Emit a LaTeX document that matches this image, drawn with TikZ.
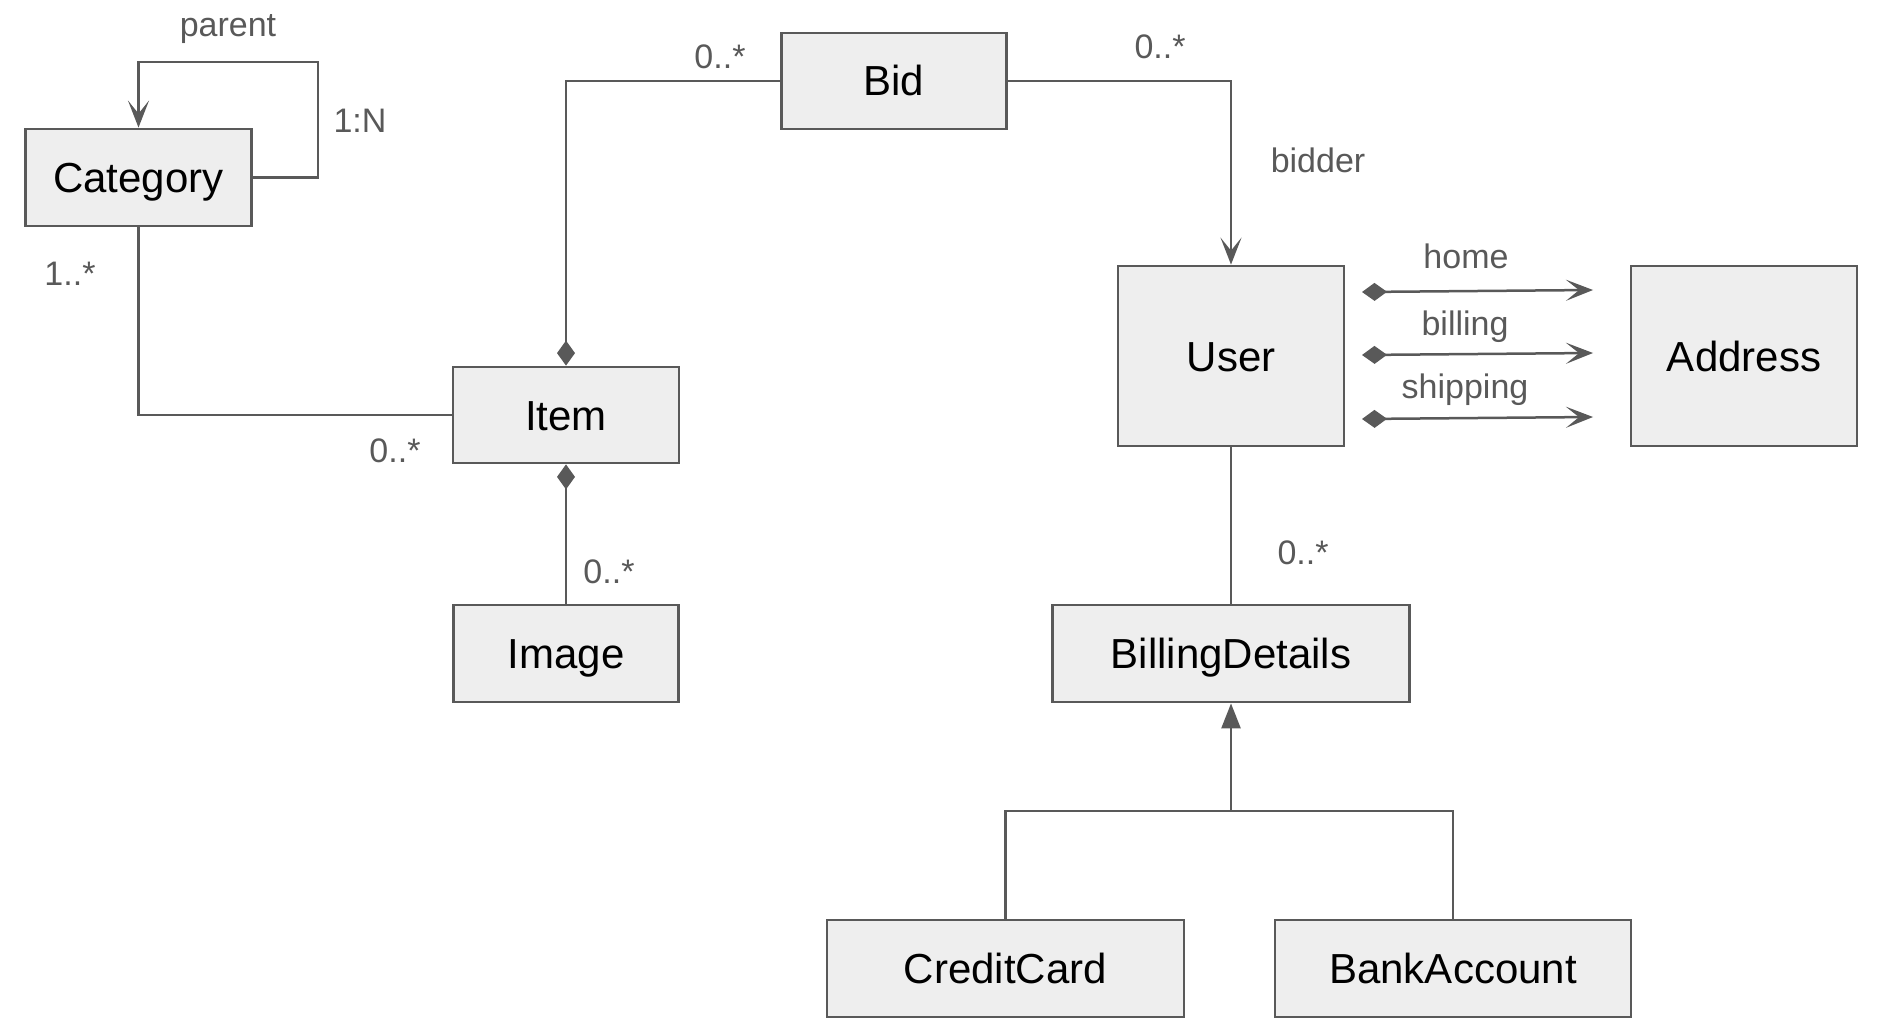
\documentclass[tikz,border=0pt]{standalone}
\usepackage{fontspec}
\setmainfont{Liberation Sans}
\usetikzlibrary{arrows.meta,calc}
\definecolor{linegray}{HTML}{595959}
\definecolor{boxfill}{HTML}{EEEEEE}
\tikzset{
  cls/.style={draw=linegray, fill=boxfill, line width=2.8pt, inner sep=0pt,
    text height=30pt, text depth=0pt, font=\fontsize{42}{50}\selectfont},
  mult/.style={text=linegray, anchor=base, inner sep=0pt, font=\fontsize{34}{40}\selectfont},
  assoc/.style={draw=linegray, line width=2.5pt},
  nav/.style={-{Stealth[length=27pt,width=21pt,inset=13pt]}},
  comp/.style={{Diamond[length=25pt,width=18pt]}-},
  compnav/.style={{Diamond[length=25pt,width=18pt]}-{Stealth[length=27pt,width=21pt,inset=13pt]}},
  inherit/.style={-{Triangle[length=25pt,width=19pt]}}
}
\begin{document}
\begin{tikzpicture}[x=1pt,y=-1pt]
\useasboundingbox (0,0) rectangle (1894,1035);

\node[cls, minimum width=226pt, minimum height=97pt] (category) at (138.5,177.5) {Category};
\node[cls, minimum width=225pt, minimum height=96pt] (bid) at (894,81) {Bid};
\node[cls, minimum width=226pt, minimum height=96pt] (item) at (566,415) {Item};
\node[cls, minimum width=225pt, minimum height=97pt] (image) at (566,653.5) {Image};
\node[cls, minimum width=226pt, minimum height=180pt] (user) at (1231,356) {User};
\node[cls, minimum width=226pt, minimum height=180pt] (address) at (1744,356) {Address};
\node[cls, minimum width=357pt, minimum height=97pt] (billing) at (1231,653.5) {BillingDetails};
\node[cls, minimum width=357pt, minimum height=97pt] (credit) at (1005.5,968.5) {CreditCard};
\node[cls, minimum width=356pt, minimum height=97pt] (bank) at (1453,968.5) {BankAccount};

%self loop on category
\coordinate (loop) at (318,62);
\draw[assoc, nav] (category.east) -| (loop) -| (category.north);
\node[mult] (parentlbl) at (228,37) {parent};
\node[mult] (onen) at (360,133) {1:N};

%category - item
\draw[assoc] (category.south) |- (item.west);
\node[mult] (catmult) at (70,285) {1..*};
\node[mult] (itemmult) at (395,462) {0..*};

%item - bid
\draw[assoc, comp] (item.north) |- (bid.west);
\node[mult] (bidmult) at (720,69) {0..*};

%bid - user
\draw[assoc, nav] (bid.east) -| (user.north);
\node[mult] (biddermult) at (1160,59) {0..*};
\node[mult] (bidder) at (1318,173) {bidder};

%user - address, three roles
\coordinate (homeS) at (1362,292);
\coordinate (homeE) at (1593,290);
\coordinate (billS) at (1362,355);
\coordinate (billE) at (1593,353);
\coordinate (shipS) at (1362,419);
\coordinate (shipE) at (1593,417);
\draw[assoc, compnav] (homeS) -- (homeE);
\draw[assoc, compnav] (billS) -- (billE);
\draw[assoc, compnav] (shipS) -- (shipE);
\node[mult] (homelbl) at (1466,268) {home};
\node[mult] (billlbl) at (1465,335) {billing};
\node[mult] (shiplbl) at (1465,398) {shipping};

%item - image
\draw[assoc, comp] (item.south) -- (image.north);
\node[mult] (imagemult) at (609,583) {0..*};

%user - billing details
\draw[assoc] (user.south) -- (billing.north);
\node[mult] (billmult) at (1303,564) {0..*};

%generalisation
\coordinate (split) at (1231,811);
\draw[assoc, inherit] (split) -- (billing.south);
\draw[assoc] (credit.north) |- (split) -| (bank.north);
\end{tikzpicture}
\end{document}
